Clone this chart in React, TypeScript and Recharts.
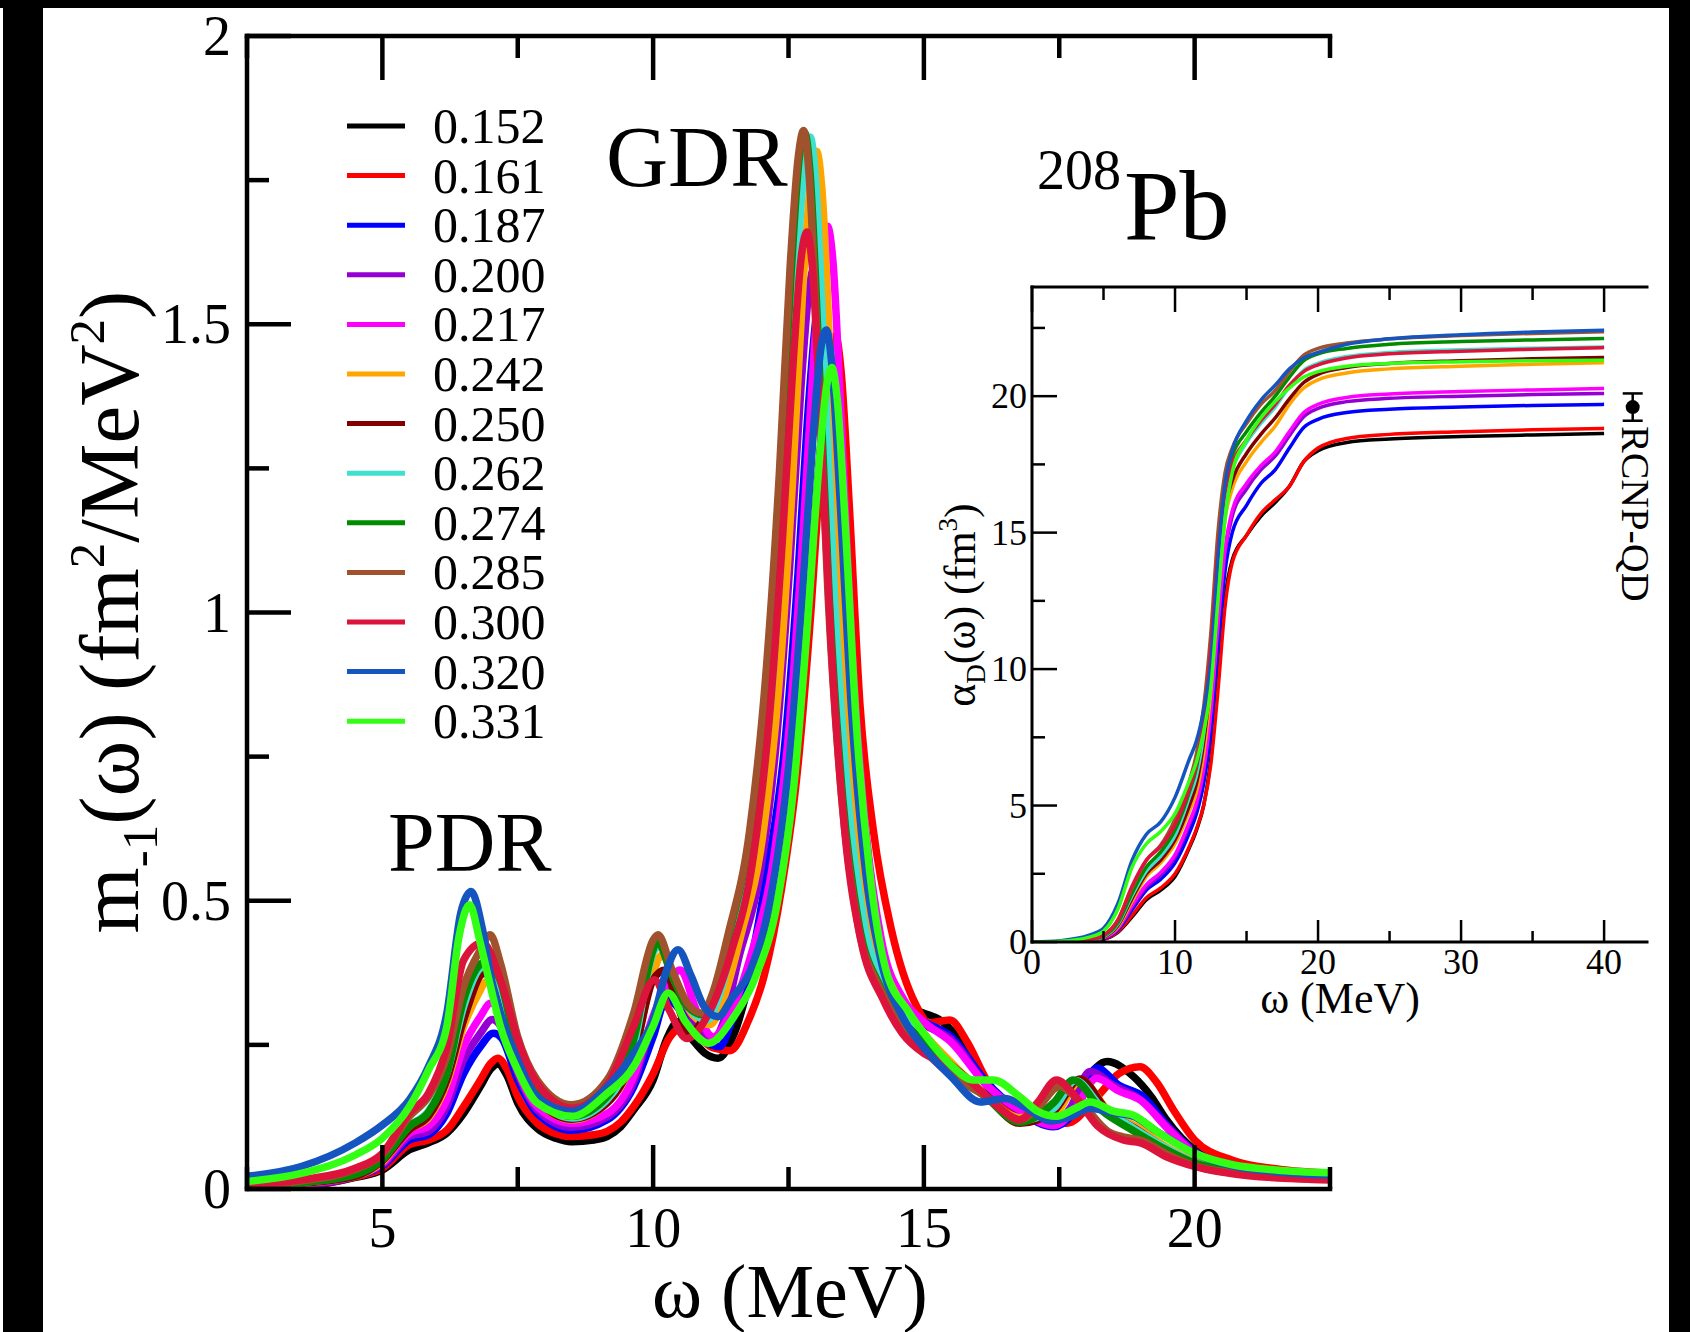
import React from 'react'
import { LineChart, ComposedChart, Line, XAxis, YAxis, Scatter, ErrorBar } from 'recharts'

type Pt = [number, number]

// m_-1(omega) in fm^2/MeV^2 vs omega in MeV, one curve per legend value (main panel)
const M_152: Pt[] = [[2.5,.003],[3.5,.005],[4.5,.02],[5.0,.033],[5.5,.068],[5.85,.08],[6.19,.097],[6.5,.131],[6.81,.178],[7.0,.208],[7.13,.217],[7.3,.197],[7.5,.149],[7.86,.105],[8.2,.088],[8.5,.082],[8.9,.085],[9.15,.091],[9.4,.108],[9.64,.137],[10.0,.189],[10.25,.26],[10.46,.29],[10.7,.262],[10.95,.236],[11.2,.227],[11.5,.27],[11.9,.40],[12.3,.50],[12.6,.70],[12.85,.97],[13.05,1.24],[13.2,1.39],[13.3,1.42],[13.4,1.37],[13.55,1.14],[13.75,.81],[14.0,.55],[14.3,.38],[14.7,.315],[15.0,.305],[15.3,.293],[15.6,.265],[16.0,.2],[16.4,.155],[16.8,.131],[17.2,.115],[17.6,.125],[18.0,.19],[18.38,.221],[18.87,.195],[19.2,.16],[19.48,.12],[20.0,.068],[20.5,.048],[21.33,.033],[22.5,.024]]
const M_161: Pt[] = [[2.5,.004],[3.5,.006],[4.5,.021],[5.0,.036],[5.5,.077],[5.85,.085],[6.19,.102],[6.5,.143],[6.81,.189],[7.0,.218],[7.13,.227],[7.3,.208],[7.5,.16],[7.86,.114],[8.2,.096],[8.5,.091],[8.9,.094],[9.15,.1],[9.4,.116],[9.64,.143],[10.0,.2],[10.3,.262],[10.55,.282],[10.8,.268],[11.1,.245],[11.42,.24],[11.75,.29],[12.05,.37],[12.37,.52],[12.67,.73],[12.92,1.01],[13.12,1.29],[13.27,1.45],[13.37,1.48],[13.47,1.42],[13.62,1.19],[13.82,.84],[14.07,.62],[14.4,.45],[14.85,.32],[15.1,.288],[15.48,.293],[15.8,.255],[16.16,.189],[16.6,.14],[17.0,.122],[17.64,.114],[18.2,.16],[18.6,.2],[18.99,.212],[19.3,.185],[19.61,.137],[20.0,.085],[20.7,.05],[21.5,.035],[22.5,.027]]
const M_187: Pt[] = [[2.5,.004],[3.5,.007],[4.5,.022],[5.0,.04],[5.5,.085],[5.85,.094],[6.19,.131],[6.5,.2],[6.81,.247],[7.05,.27],[7.2,.262],[7.5,.189],[7.86,.131],[8.5,.102],[9.15,.12],[9.64,.177],[10.0,.264],[10.25,.33],[10.5,.31],[10.85,.265],[11.23,.247],[11.45,.29],[11.72,.36],[12.12,.56],[12.42,.76],[12.67,1.06],[12.87,1.36],[13.02,1.52],[13.12,1.56],[13.22,1.5],[13.37,1.25],[13.57,.89],[13.82,.59],[14.12,.41],[14.52,.32],[15.0,.29],[15.5,.265],[16.16,.185],[16.77,.135],[17.39,.108],[17.75,.13],[18.19,.21],[18.6,.18],[19.05,.16],[19.5,.11],[20.0,.065],[20.7,.042],[21.5,.03],[22.5,.022]]
const M_200: Pt[] = [[2.5,.004],[3.5,.007],[4.5,.022],[5.0,.042],[5.5,.091],[5.85,.1],[6.19,.143],[6.5,.224],[6.81,.27],[7.03,.294],[7.2,.28],[7.5,.2],[7.86,.137],[8.5,.107],[9.15,.125],[9.64,.185],[10.0,.294],[10.31,.368],[10.6,.32],[10.85,.275],[11.1,.259],[11.3,.29],[11.58,.4],[11.98,.55],[12.28,.78],[12.53,1.09],[12.73,1.39],[12.88,1.56],[12.98,1.6],[13.08,1.54],[13.23,1.28],[13.43,.91],[13.68,.6],[13.98,.42],[14.38,.33],[15.0,.285],[15.5,.26],[16.16,.18],[16.77,.135],[17.4,.11],[17.7,.14],[18.07,.204],[18.5,.18],[19.0,.155],[19.5,.108],[20.0,.064],[20.7,.041],[21.5,.029],[22.5,.021]]
const M_217: Pt[] = [[2.5,.004],[3.5,.008],[4.5,.023],[5.0,.044],[5.5,.097],[5.85,.109],[6.19,.155],[6.5,.247],[6.81,.299],[7.0,.322],[7.18,.311],[7.5,.206],[7.86,.143],[8.5,.114],[9.15,.131],[9.64,.195],[10.0,.3],[10.3,.36],[10.5,.38],[10.8,.31],[11.11,.264],[11.4,.3],[11.82,.41],[12.22,.57],[12.52,.81],[12.77,1.14],[12.97,1.45],[13.12,1.63],[13.22,1.67],[13.32,1.61],[13.47,1.34],[13.67,.94],[13.92,.63],[14.22,.43],[14.62,.33],[15.0,.29],[15.5,.255],[16.16,.18],[16.77,.137],[17.4,.11],[17.8,.14],[18.19,.192],[18.6,.17],[19.0,.154],[19.5,.105],[20.0,.062],[20.7,.04],[21.5,.029],[22.5,.021]]
const M_242: Pt[] = [[2.5,.004],[3.5,.01],[4.5,.022],[5.0,.047],[5.5,.103],[5.85,.123],[6.19,.183],[6.5,.282],[6.81,.345],[6.9,.359],[7.18,.334],[7.5,.215],[7.86,.155],[8.5,.12],[9.15,.149],[9.64,.23],[10.0,.374],[10.16,.406],[10.45,.35],[10.75,.3],[11.05,.285],[11.3,.33],[11.62,.44],[12.02,.61],[12.32,.87],[12.57,1.22],[12.77,1.57],[12.92,1.76],[13.02,1.8],[13.12,1.73],[13.27,1.44],[13.47,1.01],[13.72,.67],[14.02,.45],[14.42,.35],[15.0,.27],[15.5,.22],[16.16,.16],[16.77,.124],[17.4,.13],[17.9,.189],[18.44,.131],[18.93,.108],[19.48,.073],[20.0,.048],[20.7,.034],[21.5,.025],[22.5,.018]]
const M_250: Pt[] = [[2.5,.004],[3.5,.01],[4.5,.022],[5.0,.049],[5.5,.103],[5.85,.126],[6.19,.189],[6.5,.293],[6.88,.374],[7.18,.34],[7.5,.22],[7.86,.155],[8.5,.121],[9.15,.149],[9.64,.23],[10.0,.363],[10.22,.38],[10.45,.32],[10.68,.27],[11.0,.31],[11.46,.44],[11.86,.61],[12.16,.88],[12.41,1.23],[12.61,1.58],[12.76,1.77],[12.86,1.815],[12.96,1.74],[13.11,1.45],[13.31,1.02],[13.56,.67],[13.86,.46],[14.26,.35],[15.0,.26],[15.5,.215],[16.16,.16],[16.77,.114],[17.4,.135],[17.88,.191],[18.4,.135],[18.9,.105],[19.48,.07],[20.0,.046],[20.7,.032],[21.5,.024],[22.5,.017]]
const M_262: Pt[] = [[2.5,.005],[3.5,.011],[4.5,.027],[5.0,.053],[5.5,.109],[5.85,.135],[6.19,.2],[6.5,.316],[6.81,.383],[6.9,.386],[7.18,.351],[7.5,.23],[7.86,.16],[8.5,.123],[9.15,.155],[9.64,.247],[10.0,.409],[10.13,.423],[10.4,.36],[10.7,.31],[11.0,.293],[11.2,.33],[11.5,.44],[11.9,.61],[12.2,.88],[12.45,1.24],[12.65,1.59],[12.8,1.78],[12.9,1.825],[13.0,1.75],[13.15,1.46],[13.35,1.03],[13.6,.68],[13.9,.46],[14.3,.35],[15.0,.26],[15.5,.21],[16.16,.158],[16.77,.118],[17.4,.14],[17.8,.188],[18.3,.14],[18.8,.11],[19.4,.075],[20.0,.046],[20.7,.032],[21.5,.024],[22.5,.017]]
const M_274: Pt[] = [[2.5,.005],[3.5,.011],[4.5,.025],[5.0,.051],[5.5,.109],[5.85,.133],[6.19,.2],[6.5,.328],[6.81,.39],[6.93,.395],[7.18,.36],[7.5,.235],[7.86,.165],[8.5,.126],[9.15,.16],[9.64,.259],[10.0,.415],[10.07,.429],[10.35,.37],[10.65,.315],[10.93,.302],[11.15,.34],[11.4,.44],[11.8,.62],[12.1,.88],[12.35,1.24],[12.55,1.59],[12.7,1.79],[12.8,1.832],[12.9,1.76],[13.05,1.47],[13.25,1.03],[13.5,.68],[13.8,.46],[14.2,.35],[15.0,.255],[15.5,.21],[16.16,.158],[16.77,.116],[17.4,.15],[17.76,.189],[18.3,.135],[18.8,.105],[19.4,.072],[20.0,.045],[20.7,.031],[21.5,.023],[22.5,.017]]
const M_285: Pt[] = [[2.5,.006],[3.5,.014],[4.5,.034],[5.0,.06],[5.5,.126],[5.85,.16],[6.19,.229],[6.5,.351],[6.81,.415],[6.99,.441],[7.18,.392],[7.5,.264],[7.86,.189],[8.5,.146],[9.15,.189],[9.64,.305],[10.0,.432],[10.09,.441],[10.35,.38],[10.65,.32],[10.9,.305],[11.1,.34],[11.38,.44],[11.78,.62],[12.08,.89],[12.33,1.24],[12.53,1.6],[12.68,1.79],[12.78,1.836],[12.88,1.76],[13.03,1.47],[13.23,1.03],[13.48,.68],[13.78,.46],[14.18,.35],[14.6,.28],[15.0,.24],[15.54,.195],[16.16,.16],[16.77,.12],[17.1,.14],[17.5,.178],[17.9,.15],[18.4,.1],[18.7,.09],[19.0,.085],[19.5,.06],[20.0,.04],[21.0,.025],[22.5,.016]]
const M_300: Pt[] = [[2.5,.007],[3.5,.016],[4.5,.036],[5.0,.062],[5.5,.132],[5.85,.166],[6.19,.247],[6.5,.397],[6.85,.427],[7.18,.363],[7.5,.259],[7.86,.183],[8.5,.14],[9.15,.18],[9.64,.282],[10.02,.363],[10.3,.31],[10.62,.261],[11.0,.3],[11.44,.41],[11.84,.57],[12.14,.81],[12.39,1.13],[12.59,1.44],[12.74,1.62],[12.84,1.66],[12.94,1.6],[13.09,1.33],[13.29,.94],[13.54,.62],[13.84,.43],[14.24,.33],[14.6,.27],[15.0,.235],[15.5,.215],[16.0,.175],[16.4,.14],[16.77,.12],[17.1,.15],[17.45,.189],[17.8,.16],[18.2,.11],[18.68,.085],[19.0,.08],[19.5,.055],[20.0,.039],[21.0,.023],[22.5,.016]]
const M_320: Pt[] = [[2.5,.022],[3.5,.039],[4.5,.08],[5.0,.111],[5.5,.155],[5.85,.212],[6.19,.305],[6.45,.48],[6.64,.516],[6.85,.45],[7.0,.37],[7.18,.305],[7.5,.224],[7.86,.16],[8.5,.135],[9.15,.177],[9.64,.235],[10.0,.294],[10.25,.38],[10.46,.415],[10.7,.37],[10.95,.315],[11.2,.299],[11.45,.33],[11.8,.38],[12.2,.52],[12.5,.73],[12.75,1.02],[12.95,1.3],[13.1,1.46],[13.2,1.49],[13.3,1.43],[13.45,1.2],[13.65,.85],[13.9,.57],[14.2,.4],[14.6,.3],[15.0,.245],[15.5,.195],[16.04,.151],[16.5,.157],[16.9,.14],[17.33,.118],[17.7,.125],[18.07,.14],[18.5,.132],[18.87,.126],[19.3,.1],[20.0,.062],[20.7,.04],[21.5,.03],[22.5,.024]]
const M_331: Pt[] = [[2.5,.013],[3.5,.027],[4.5,.059],[5.0,.088],[5.5,.143],[5.85,.206],[6.19,.282],[6.42,.44],[6.61,.493],[6.8,.43],[7.0,.35],[7.18,.282],[7.5,.206],[7.86,.149],[8.5,.126],[9.15,.166],[9.64,.212],[10.0,.282],[10.28,.34],[10.6,.29],[11.02,.253],[11.5,.3],[11.9,.37],[12.3,.5],[12.6,.7],[12.85,.98],[13.05,1.24],[13.2,1.39],[13.3,1.425],[13.4,1.37],[13.55,1.15],[13.75,.81],[14.0,.55],[14.3,.38],[14.7,.31],[15.0,.27],[15.5,.215],[15.91,.189],[16.28,.189],[16.77,.16],[17.1,.135],[17.45,.126],[17.8,.14],[18.07,.151],[18.5,.135],[18.87,.128],[19.3,.1],[20.0,.062],[20.7,.042],[21.5,.033],[22.5,.028]]

// alpha_D(omega) in fm^3 (inset), sampled on a common omega grid
const INSET_OMEGA = [0, 2, 4, 5, 6, 7, 8, 9, 10, 11, 11.5, 12, 12.5, 13, 13.5, 14, 15, 16, 17, 18, 19, 20, 22, 25, 30, 35, 40]
const A_152 = [0,0.01,0.04,0.1,0.35,0.92,1.55,1.9,2.4,3.45,4.1,5.0,6.7,9.6,12.6,14.0,14.9,15.6,16.1,16.7,17.6,18.0,18.3,18.43,18.52,18.58,18.63]
const A_161 = [0,0.01,0.05,0.11,0.38,0.98,1.62,1.98,2.5,3.5,4.15,5.0,6.5,9.2,12.3,13.9,14.9,15.7,16.2,16.7,17.6,18.1,18.45,18.6,18.7,18.77,18.82]
const A_187 = [0,0.01,0.05,0.13,0.44,1.18,1.9,2.3,2.9,4.0,4.7,5.8,7.7,10.8,13.6,15.0,16.0,16.8,17.3,18.1,18.85,19.15,19.4,19.52,19.6,19.66,19.7]
const A_200 = [0,0.01,0.06,0.14,0.48,1.28,2.0,2.45,3.1,4.3,5.0,6.3,8.5,11.7,14.3,15.6,16.6,17.3,17.8,18.55,19.25,19.55,19.8,19.92,20.0,20.06,20.1]
const A_217 = [0,0.01,0.06,0.15,0.5,1.35,2.1,2.55,3.2,4.4,5.1,6.3,8.4,11.6,14.4,15.8,16.8,17.45,17.95,18.7,19.4,19.7,19.95,20.08,20.17,20.23,20.28]
const A_242 = [0,0.02,0.07,0.17,0.55,1.5,2.4,2.9,3.6,4.8,5.5,6.9,9.2,12.8,15.5,16.6,17.6,18.3,18.9,19.7,20.3,20.6,20.85,21.0,21.1,21.17,21.23]
const A_250 = [0,0.02,0.07,0.18,0.6,1.6,2.5,3.0,3.75,5.0,5.8,7.3,9.7,13.3,15.9,16.9,17.9,18.6,19.2,19.9,20.5,20.8,21.05,21.2,21.3,21.37,21.42]
const A_262 = [0,0.02,0.08,0.2,0.65,1.7,2.6,3.15,3.9,5.3,6.1,7.6,10.1,13.8,16.3,17.3,18.3,19.0,19.6,20.35,20.95,21.2,21.45,21.6,21.7,21.76,21.8]
const A_274 = [0,0.02,0.08,0.22,0.7,1.8,2.75,3.3,4.1,5.5,6.4,8.0,10.6,14.4,16.8,17.8,18.7,19.4,20.0,20.7,21.3,21.55,21.75,21.9,22.0,22.06,22.11]
const A_285 = [0,0.02,0.1,0.25,0.8,2.0,3.0,3.55,4.5,5.9,6.9,8.6,11.3,15.0,17.2,18.1,19.0,19.7,20.2,20.9,21.5,21.75,21.95,22.1,22.22,22.3,22.36]
const A_300 = [0,0.02,0.1,0.25,0.8,2.05,3.0,3.5,4.3,5.6,6.5,8.1,10.7,14.3,16.5,17.5,18.4,19.1,19.7,20.4,20.9,21.15,21.4,21.55,21.65,21.72,21.78]
const A_320 = [0,0.05,0.25,0.5,1.4,3.0,3.95,4.4,5.3,6.7,7.37,8.5,10.2,14.0,16.8,18.0,19.1,19.85,20.4,21.0,21.4,21.6,21.9,22.1,22.25,22.35,22.42]
const A_331 = [0,0.03,0.18,0.4,1.2,2.75,3.6,4.05,4.7,5.9,6.6,7.7,9.3,12.5,15.5,17.2,18.4,19.2,19.8,20.3,20.7,20.9,21.1,21.2,21.26,21.3,21.32]

// experimental point (RCNP-QD)
const RCNP = [{ x: 42, y: 19.6, err: 0.5 }]

const LABELS = ['0.152', '0.161', '0.187', '0.200', '0.217', '0.242', '0.250', '0.262', '0.274', '0.285', '0.300', '0.320', '0.331']
const COLORS = ['#000000', '#ff0000', '#0000ff', '#9400d3', '#ff00ff', '#ffa500', '#800000', '#40e0d0', '#008b00', '#a0522d', '#dc143c', '#1555c0', '#33ff14']
const MAIN = [M_152, M_161, M_187, M_200, M_217, M_242, M_250, M_262, M_274, M_285, M_300, M_320, M_331]
const INSET = [A_152, A_161, A_187, A_200, A_217, A_242, A_250, A_262, A_274, A_285, A_300, A_320, A_331]

const MAIN_X_TICKS = [2.5, 5, 7.5, 10, 12.5, 15, 17.5, 20, 22.5]
const MAIN_Y_TICKS = [0, 0.25, 0.5, 0.75, 1, 1.25, 1.5, 1.75, 2]
const INSET_X_TICKS = [0, 5, 10, 15, 20, 25, 30, 35, 40]
const INSET_Y_TICKS = [0, 2.5, 5, 7.5, 10, 12.5, 15, 17.5, 20, 22.5]

const FONT = "'Liberation Serif', 'Times New Roman', serif"

const mainSeries = MAIN.map((pts) => pts.map(([x, y]) => ({ x, y })))
const insetSeries = INSET.map((vals) => vals.map((y, i) => ({ x: INSET_OMEGA[i], y })))

const isMult = (v: number, step: number) => Math.abs(v / step - Math.round(v / step)) < 1e-6

const mainLeftTick = (p: any) => {
  const v = p.payload.value
  const major = isMult(v, 0.5)
  return (
    <g>
      <line x1={p.x} y1={p.y} x2={p.x + (major ? 44 : 22)} y2={p.y} stroke="#000" strokeWidth={4.5} />
      {major && (
        <text x={p.x - 16} y={p.y + 19} textAnchor="end" fontSize={56} fontFamily={FONT} fill="#000">{v}</text>
      )}
    </g>
  )
}
const mainBottomTick = (p: any) => {
  const v = p.payload.value
  const major = isMult(v, 5)
  return (
    <g>
      <line x1={p.x} y1={p.y} x2={p.x} y2={p.y - (major ? 44 : 22)} stroke="#000" strokeWidth={4.5} />
      {major && (
        <text x={p.x} y={p.y + 58} textAnchor="middle" fontSize={56} fontFamily={FONT} fill="#000">{v}</text>
      )}
    </g>
  )
}
const mainTopTick = (p: any) => {
  const major = isMult(p.payload.value, 5)
  return <line x1={p.x} y1={p.y} x2={p.x} y2={p.y + (major ? 44 : 22)} stroke="#000" strokeWidth={4.5} />
}

const insetLeftTick = (p: any) => {
  const v = p.payload.value
  const major = isMult(v, 5)
  return (
    <g>
      <line x1={p.x} y1={p.y} x2={p.x + (major ? 25 : 13)} y2={p.y} stroke="#000" strokeWidth={2.5} />
      {major && (
        <text x={p.x - 5} y={p.y + 12} textAnchor="end" fontSize={36} fontFamily={FONT} fill="#000">{v}</text>
      )}
    </g>
  )
}
const insetBottomTick = (p: any) => {
  const v = p.payload.value
  const major = isMult(v, 10)
  return (
    <g>
      <line x1={p.x} y1={p.y} x2={p.x} y2={p.y - (major ? 22 : 11)} stroke="#000" strokeWidth={2.5} />
      {major && (
        <text x={p.x} y={p.y + 32} textAnchor="middle" fontSize={36} fontFamily={FONT} fill="#000">{v}</text>
      )}
    </g>
  )
}
const insetTopTick = (p: any) => {
  const major = isMult(p.payload.value, 10)
  return <line x1={p.x} y1={p.y} x2={p.x} y2={p.y + (major ? 25 : 13)} stroke="#000" strokeWidth={2.5} />
}

function MainPanel() {
  const axisLine = { stroke: '#000', strokeWidth: 4.5, strokeLinecap: 'square' as const }
  return (
    <LineChart width={1690} height={1332} margin={{ top: 0, right: 360, bottom: 0, left: 0 }}>
      <XAxis dataKey="x" type="number" domain={[2.5, 22.5]} ticks={MAIN_X_TICKS} interval={0} height={143}
        axisLine={axisLine} tickLine={false} tickSize={0} tickMargin={0} tick={mainBottomTick} allowDataOverflow />
      <XAxis xAxisId="top" orientation="top" dataKey="x" type="number" domain={[2.5, 22.5]} ticks={MAIN_X_TICKS}
        interval={0} height={36} axisLine={axisLine} tickLine={false} tickSize={0} tickMargin={0} tick={mainTopTick} allowDataOverflow />
      <YAxis type="number" domain={[0, 2]} ticks={MAIN_Y_TICKS} interval={0} width={247}
        axisLine={axisLine} tickLine={false} tickSize={0} tickMargin={0} tick={mainLeftTick} allowDataOverflow />
      {mainSeries.map((data, i) => (
        <Line key={LABELS[i]} name={LABELS[i]} data={data} dataKey="y" type="monotone" stroke={COLORS[i]}
          strokeWidth={7.5} dot={false} activeDot={false} isAnimationActive={false} />
      ))}
    </LineChart>
  )
}

function InsetPanel() {
  const axisLine = { stroke: '#000', strokeWidth: 3, strokeLinecap: 'square' as const }
  return (
    <ComposedChart width={790} height={800} margin={{ top: 0, right: 23, bottom: 0, left: 0 }}>
      <XAxis dataKey="x" type="number" domain={[0, 43]} ticks={INSET_X_TICKS} interval={0} height={118}
        axisLine={axisLine} tickLine={false} tickSize={0} tickMargin={0} tick={insetBottomTick} allowDataOverflow />
      <XAxis xAxisId="top" orientation="top" dataKey="x" type="number" domain={[0, 43]} ticks={INSET_X_TICKS}
        interval={0} height={27} axisLine={axisLine} tickLine={false} tickSize={0} tickMargin={0} tick={insetTopTick} allowDataOverflow />
      <YAxis type="number" domain={[0, 24]} ticks={INSET_Y_TICKS} interval={0} width={152}
        axisLine={axisLine} tickLine={false} tickSize={0} tickMargin={0} tick={insetLeftTick} allowDataOverflow />
      {insetSeries.map((data, i) => (
        <Line key={LABELS[i]} name={LABELS[i]} data={data} dataKey="y" type="monotone" stroke={COLORS[i]}
          strokeWidth={3.5} dot={false} activeDot={false} isAnimationActive={false} />
      ))}
      <Scatter data={RCNP} dataKey="y" fill="#000" shape={(p: any) => <circle cx={p.cx} cy={p.cy} r={7} fill="#000" />}
        isAnimationActive={false}>
        <ErrorBar dataKey="err" direction="y" width={10} stroke="#000" strokeWidth={2.5} />
      </Scatter>
    </ComposedChart>
  )
}

function Overlay() {
  const t = { fontFamily: FONT, fill: '#000' }
  return (
    <svg width={1690} height={1332} style={{ position: 'absolute', left: 0, top: 0, pointerEvents: 'none' }}>
      {LABELS.map((lab, i) => {
        const y = 126 + i * 49.6
        return (
          <g key={lab}>
            <line x1={347} x2={405} y1={y} y2={y} stroke={COLORS[i]} strokeWidth={5} />
            <text x={433} y={y + 17} fontSize={50} {...t}>{lab}</text>
          </g>
        )
      })}
      <text x={606} y={186} fontSize={86} {...t}>GDR</text>
      <text x={388} y={871} fontSize={84} {...t}>PDR</text>
      <text x={1037} y={189} fontSize={56} {...t}>208</text>
      <text x={1124} y={239} fontSize={100} {...t}>Pb</text>
      <text x={790} y={1317} fontSize={76} textAnchor="middle" {...t}>ω (MeV)</text>
      <text transform="translate(138,612) rotate(-90)" fontSize={85} textAnchor="middle" {...t}>
        m<tspan fontSize={51} dy={19}>-1</tspan>
        <tspan dy={-19}>(ω) (fm</tspan>
        <tspan fontSize={51} dy={-34}>2</tspan>
        <tspan dy={34}>/MeV</tspan>
        <tspan fontSize={51} dy={-34}>2</tspan>
        <tspan dy={34}>)</tspan>
      </text>
      <text x={1340} y={1013} fontSize={44} textAnchor="middle" {...t}>ω (MeV)</text>
      <text transform="translate(975,605) rotate(-90)" fontSize={44} textAnchor="middle" {...t}>
        α<tspan fontSize={27} dy={10}>D</tspan>
        <tspan dy={-10}>(ω) (fm</tspan>
        <tspan fontSize={27} dy={-18}>3</tspan>
        <tspan dy={18}>)</tspan>
      </text>
      <text transform="translate(1622,426) rotate(90)" fontSize={40} {...t}>RCNP-QD</text>
    </svg>
  )
}

export default function App() {
  return (
    <div style={{ position: 'absolute', left: 0, top: 0, width: 1690, height: 1332, background: '#fff', overflow: 'hidden' }}>
      <div style={{ position: 'absolute', left: 0, top: 0 }}>
        <MainPanel />
      </div>
      <div style={{ position: 'absolute', left: 880, top: 260 }}>
        <InsetPanel />
      </div>
      <Overlay />
      <div style={{ position: 'absolute', left: 0, top: 0, width: 1690, height: 8, background: '#000' }} />
      <div style={{ position: 'absolute', left: 3, top: 0, width: 40, height: 1332, background: '#000' }} />
      <div style={{ position: 'absolute', left: 1669, top: 0, width: 21, height: 1332, background: '#000' }} />
    </div>
  )
}
